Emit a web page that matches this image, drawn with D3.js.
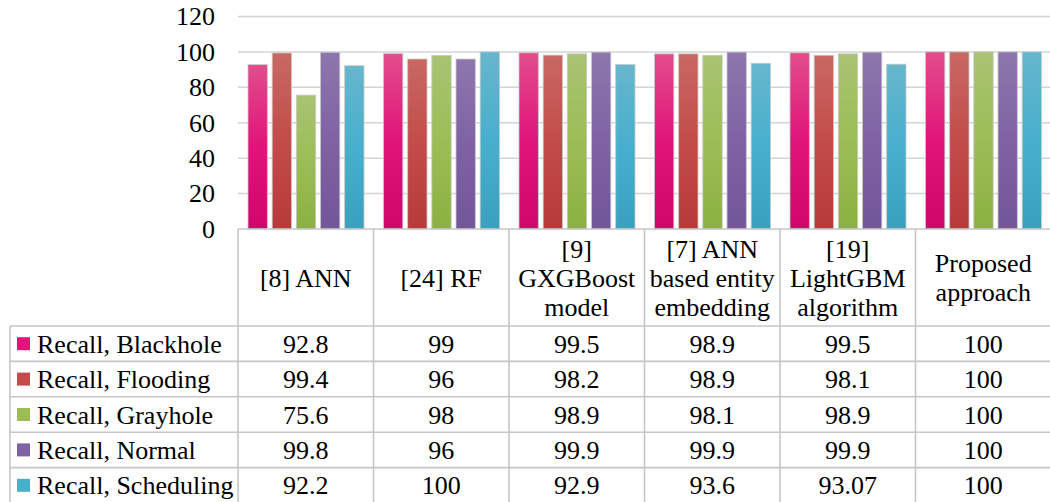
<!DOCTYPE html>
<meta charset="utf-8">
<script src="https://d3js.org/d3.v7.min.js"></script>
<style>
  body { margin: 0; background: #fff; }
</style>
<div id="chart"></div>
<script>
// data
var categories = [
  ["[8] ANN"],
  ["[24] RF"],
  ["[9]", "GXGBoost", "model"],
  ["[7] ANN", "based entity", "embedding"],
  ["[19]", "LightGBM", "algorithm"],
  ["Proposed", "approach"]
]
var seriesNames = ["Recall, Blackhole", "Recall, Flooding", "Recall, Grayhole", "Recall, Normal", "Recall, Scheduling"]
var blackhole  = [92.8, 99, 99.5, 98.9, 99.5, 100]
var flooding   = [99.4, 96, 98.2, 98.9, 98.1, 100]
var grayhole   = [75.6, 98, 98.9, 98.1, 98.9, 100]
var normal     = [99.8, 96, 99.9, 99.9, 99.9, 100]
var scheduling = [92.2, 100, 92.9, 93.6, 93.07, 100]
var tableLabels = [
  ["92.8", "99", "99.5", "98.9", "99.5", "100"],
  ["99.4", "96", "98.2", "98.9", "98.1", "100"],
  ["75.6", "98", "98.9", "98.1", "98.9", "100"],
  ["99.8", "96", "99.9", "99.9", "99.9", "100"],
  ["92.2", "100", "92.9", "93.6", "93.07", "100"]
]
var yTicks = [0, 20, 40, 60, 80, 100, 120]

var values = [blackhole, flooding, grayhole, normal, scheduling]
// colours: top, middle, bottom of the gradient
var colors = [
  ["#e24d8c", "#e0147a", "#cf066b"],
  ["#c96863", "#c24c49", "#b73a39"],
  ["#a8c373", "#9cbd56", "#8cb043"],
  ["#8d77ae", "#7f62a3", "#72569a"],
  ["#67b6cd", "#48afcd", "#3aa0bd"]
]

const W = 1050, H = 502
const plotLeft = 238, plotRight = 1051, plotTop = 16.5, plotBottom = 229
const headerBottom = 326, rowH = 35.4, tableLeft = 10
const FONT = "'Liberation Serif', 'Times New Roman', serif"

const svg = d3.select("#chart").append("svg")
  .attr("width", W).attr("height", H)
  .style("font-family", FONT)

const defs = svg.append("defs")
colors.forEach(function(c, i) {
  var g = defs.append("linearGradient").attr("id", "grad" + i)
    .attr("x1", 0).attr("y1", 0).attr("x2", 0).attr("y2", 1)
  g.append("stop").attr("offset", "0%").attr("stop-color", c[0])
  g.append("stop").attr("offset", "50%").attr("stop-color", c[1])
  g.append("stop").attr("offset", "100%").attr("stop-color", c[2])
})

const x = d3.scaleBand().domain(d3.range(categories.length))
  .range([plotLeft, plotRight]).padding(0)
const xs = d3.scaleBand().domain(d3.range(seriesNames.length))
  .range([10, x.bandwidth() - 9.5]).paddingInner(0.2)
const y = d3.scaleLinear().domain([0, 120]).range([plotBottom, plotTop])

// gridlines
svg.append("g").selectAll("line").data(yTicks.filter(d => d > 0)).join("line")
  .attr("x1", plotLeft).attr("x2", W)
  .attr("y1", d => y(d)).attr("y2", d => y(d))
  .attr("stroke", "#d4d4d4").attr("stroke-width", 1.5)

// y axis labels
const yAxis = svg.append("g")
  .attr("transform", `translate(${plotLeft},0)`)
  .call(d3.axisLeft(y).tickValues(yTicks).tickSize(0).tickPadding(23))
yAxis.attr("font-family", null).attr("font-size", null)
yAxis.select(".domain").remove()
yAxis.selectAll("text")
  .style("font-family", FONT)
  .style("font-size", "26px").attr("fill", "#000")

// bars
values.forEach(function(vals, s) {
  svg.append("g").selectAll("rect").data(vals).join("rect")
    .attr("x", (d, i) => x(i) + xs(s))
    .attr("width", xs.bandwidth())
    .attr("y", d => y(d))
    .attr("height", d => y(0) - y(d))
    .attr("fill", "url(#grad" + s + ")")
    .attr("stroke", "#c8c8c8").attr("stroke-width", 0.8)
})

// table lines
const lineCol = "#c6c6c6"
const tbl = svg.append("g").attr("stroke", lineCol).attr("stroke-width", 1.6)
// axis line / top of header
tbl.append("line").attr("x1", plotLeft).attr("x2", W).attr("y1", plotBottom).attr("y2", plotBottom)
// column borders
tbl.selectAll(".vcol").data(d3.range(categories.length)).join("line")
  .attr("x1", d => x(d)).attr("x2", d => x(d))
  .attr("y1", plotBottom).attr("y2", H)
// left border of legend column
tbl.append("line").attr("x1", tableLeft).attr("x2", tableLeft).attr("y1", headerBottom).attr("y2", H)
// horizontal row lines
tbl.selectAll(".hrow").data(d3.range(seriesNames.length + 1)).join("line")
  .attr("x1", tableLeft).attr("x2", W)
  .attr("y1", d => headerBottom + d * rowH).attr("y2", d => headerBottom + d * rowH)

// header text
const lineH = 29
categories.forEach(function(lines, i) {
  var cy = (plotBottom + headerBottom) / 2
  var t = svg.append("text")
    .attr("text-anchor", "middle")
    .style("font-family", FONT)
    .style("font-size", "26px")
    .attr("fill", "#000")
  lines.forEach(function(l, k) {
    t.append("tspan")
      .attr("x", x(i) + x.bandwidth() / 2)
      .attr("y", cy + (k - (lines.length - 1) / 2) * lineH + 9)
      .text(l)
  })
})

// rows: legend key + values
seriesNames.forEach(function(name, s) {
  var cy = headerBottom + s * rowH + rowH / 2
  svg.append("rect")
    .attr("x", 17).attr("y", cy - 6.5)
    .attr("width", 13).attr("height", 13)
    .attr("fill", colors[s][1])
  svg.append("text")
    .attr("x", 37).attr("y", cy + 9)
    .style("font-family", FONT)
    .style("font-size", "26px")
    .attr("fill", "#000")
    .text(name)
  svg.append("g").selectAll("text").data(tableLabels[s]).join("text")
    .attr("x", (d, i) => x(i) + x.bandwidth() / 2)
    .attr("y", cy + 9)
    .attr("text-anchor", "middle")
    .style("font-family", FONT)
    .style("font-size", "26px")
    .attr("fill", "#000")
    .text(d => d)
})
</script>
